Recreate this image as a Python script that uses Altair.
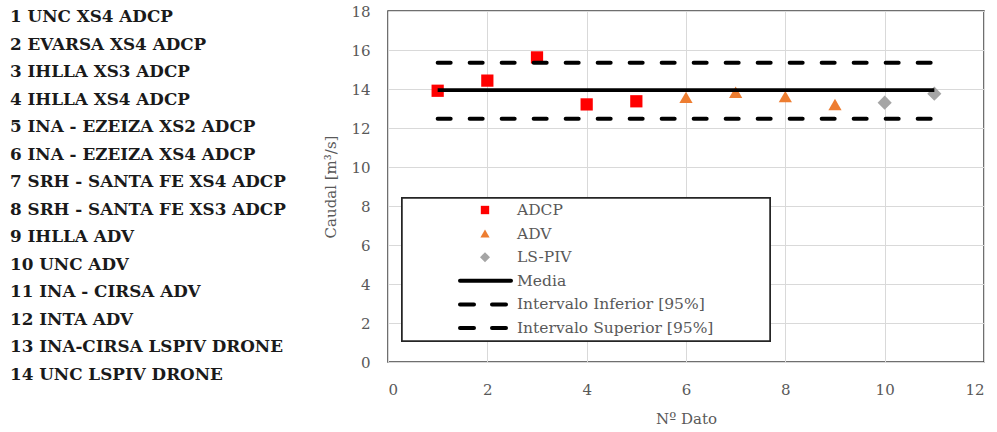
import altair as alt
import pandas as pd

# ---- data ----
nombres = [
    "1 UNC XS4 ADCP", "2 EVARSA XS4 ADCP", "3 IHLLA XS3 ADCP", "4 IHLLA XS4 ADCP",
    "5 INA - EZEIZA XS2 ADCP", "6 INA - EZEIZA XS4 ADCP", "7 SRH - SANTA FE XS4 ADCP",
    "8 SRH - SANTA FE XS3 ADCP", "9 IHLLA ADV", "10 UNC ADV", "11 INA - CIRSA ADV",
    "12 INTA ADV", "13 INA-CIRSA LSPIV DRONE", "14 UNC LSPIV DRONE",
]
dato = [1, 2, 3, 4, 5, 6, 7, 8, 9, 10, 11]
caudal = [13.91, 14.43, 15.62, 13.21, 13.37, 13.57, 13.83, 13.61, 13.21, 13.30, 13.76]
metodo = ["ADCP"] * 5 + ["ADV"] * 4 + ["LS-PIV"] * 2
media = 13.94
intervalo_inf = 12.48
intervalo_sup = 15.35
x_ini, x_fin = 1, 11

series = ["ADCP", "ADV", "LS-PIV"]
colores = ["#FF0000", "#ED7D31", "#A5A5A5"]
formas = ["square", "triangle-up", "diamond"]
leyenda = ["ADCP", "ADV", "LS-PIV", "Media",
           "Intervalo Inferior [95%]", "Intervalo Superior [95%]"]

FONT = "DejaVu Serif"
GREY = "#595959"

df = pd.DataFrame({"dato": dato, "caudal": caudal, "metodo": metodo})
lineas_df = pd.DataFrame({"x": [x_ini], "x2": [x_fin], "media": [media],
                          "inf": [intervalo_inf], "sup": [intervalo_sup]})
nombres_df = pd.DataFrame({"idx": list(range(1, len(nombres) + 1)), "nombre": nombres})
ley_df = pd.DataFrame({"fila": list(range(len(leyenda))), "nombre": leyenda})

y_scale = alt.Scale(domain=[0, 18], nice=False, zero=False)
x_scale = alt.Scale(domain=[0, 12], nice=False, zero=False)
color_scale = alt.Scale(domain=series, range=colores)
shape_scale = alt.Scale(domain=series, range=formas)

puntos = alt.Chart(df).mark_point(filled=True, opacity=1).encode(
    x=alt.X("dato:Q", scale=x_scale,
            axis=alt.Axis(values=list(range(0, 13, 2)), title="Nº Dato")),
    y=alt.Y("caudal:Q", scale=y_scale,
            axis=alt.Axis(values=list(range(0, 19, 2)), title="Caudal [m³/s]")),
    color=alt.Color("metodo:N", scale=color_scale, legend=None),
    shape=alt.Shape("metodo:N", scale=shape_scale, legend=None),
    size=alt.Size("metodo:N", scale=alt.Scale(domain=series, range=[150, 200, 150]), legend=None),
)

linea_media = alt.Chart(lineas_df).mark_rule(color="black", strokeWidth=3.8).encode(
    x=alt.X("x:Q", scale=x_scale), x2="x2:Q",
    y=alt.Y("media:Q", scale=y_scale, axis=None),
)
linea_inf = alt.Chart(lineas_df).mark_rule(
    color="black", strokeWidth=4, strokeDash=[13, 19], strokeCap="round").encode(
    x=alt.X("x:Q", scale=x_scale), x2="x2:Q",
    y=alt.Y("inf:Q", scale=y_scale, axis=None),
)
linea_sup = alt.Chart(lineas_df).mark_rule(
    color="black", strokeWidth=4, strokeDash=[13, 19], strokeCap="round").encode(
    x=alt.X("x:Q", scale=x_scale), x2="x2:Q",
    y=alt.Y("sup:Q", scale=y_scale, axis=None),
)

# ---- legend (manual) ----
ley_scale = alt.Scale(domain=[0, 5], range=[199, 317], nice=False, zero=False)
caja = alt.Chart(ley_df).mark_rect(fill="white", stroke="#262626", strokeWidth=1.5).encode(
    x=alt.value(14), x2=alt.value(382), y=alt.value(187), y2=alt.value(330),
)
ley_puntos = alt.Chart(ley_df).transform_filter(
    alt.FieldOneOfPredicate(field="nombre", oneOf=series)
).mark_point(filled=True, opacity=1).encode(
    x=alt.value(97),
    y=alt.Y("fila:Q", scale=ley_scale, axis=None),
    color=alt.Color("nombre:N", scale=color_scale, legend=None),
    shape=alt.Shape("nombre:N", scale=shape_scale, legend=None),
    size=alt.Size("nombre:N", scale=alt.Scale(domain=series, range=[70, 100, 80]), legend=None),
)
ley_lineas = alt.Chart(ley_df).transform_filter(
    alt.FieldOneOfPredicate(field="nombre", oneOf=leyenda[3:])
).mark_rule(color="black", strokeWidth=4, strokeCap="round").encode(
    x=alt.value(72), x2=alt.value(123),
    y=alt.Y("fila:Q", scale=ley_scale, axis=None),
    strokeDash=alt.StrokeDash("nombre:N", scale=alt.Scale(
        domain=leyenda[3:], range=[[1, 0], [14, 18], [14, 18]]), legend=None),
)
ley_texto = alt.Chart(ley_df).mark_text(
    align="left", baseline="middle", font=FONT, fontSize=15.5, color=GREY).encode(
    x=alt.value(129),
    y=alt.Y("fila:Q", scale=ley_scale, axis=None),
    text="nombre:N",
)

# ---- left list ----
lista = alt.Chart(nombres_df).mark_text(
    align="left", baseline="middle", font=FONT, fontSize=16.8, fontWeight="bold",
    color="#1a1a1a").encode(
    x=alt.value(-378),
    y=alt.Y("idx:Q", scale=alt.Scale(domain=[1, 14], range=[6, 364], nice=False, zero=False),
            axis=None),
    text="nombre:N",
)

chart = alt.layer(
    puntos, linea_media, linea_inf, linea_sup,
    caja, ley_puntos, ley_lineas, ley_texto, lista,
).resolve_scale(y="independent", size="independent").properties(
    width=596, height=351,
    autosize=alt.AutoSizeParams(type="none"),
    padding={"left": 388, "top": 11, "right": 13, "bottom": 70},
).configure_view(
    stroke="#404040", strokeWidth=1.5,
).configure_axis(
    grid=True, gridColor="#D9D9D9", gridWidth=1,
    ticks=False, domain=False,
    labelFont=FONT, labelFontSize=15, labelColor=GREY,
    titleFont=FONT, titleFontSize=15, titleColor=GREY, titleFontWeight="normal",
).configure_axisY(
    labelPadding=18, titlePadding=12,
).configure_axisX(
    labelPadding=20, titlePadding=14,
)

chart.save("out.html", embed_options={"renderer": "svg", "actions": False})
